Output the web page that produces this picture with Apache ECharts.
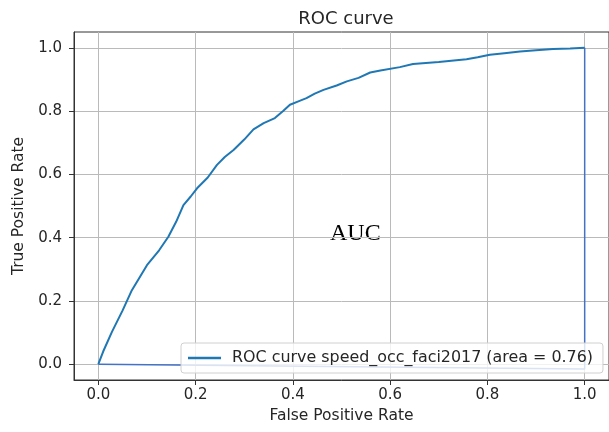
<!DOCTYPE html>
<html>
<head>
<meta charset="utf-8">
<script src="https://cdn.jsdelivr.net/npm/echarts@6/dist/echarts.min.js"></script>
<style>html,body{margin:0;padding:0;background:#fff}#c{width:609px;height:432px}</style>
</head>
<body>
<div id="c"></div>
<script>
const fpr = [0, 0.01, 0.028, 0.05, 0.069, 0.1, 0.125, 0.144, 0.16, 0.175, 0.19, 0.203, 0.225, 0.244, 0.26, 0.278, 0.3, 0.319, 0.34, 0.363, 0.38, 0.394, 0.41, 0.428, 0.445, 0.463, 0.49, 0.511, 0.535, 0.559, 0.58, 0.62, 0.647, 0.7, 0.757, 0.78, 0.805, 0.835, 0.867, 0.9, 0.935, 0.97, 1.0];
const tpr = [0, 0.04, 0.102, 0.17, 0.234, 0.313, 0.36, 0.403, 0.45, 0.503, 0.53, 0.556, 0.59, 0.63, 0.655, 0.677, 0.71, 0.742, 0.762, 0.778, 0.8, 0.82, 0.83, 0.841, 0.855, 0.867, 0.881, 0.894, 0.905, 0.922, 0.928, 0.939, 0.949, 0.955, 0.964, 0.97, 0.978, 0.983, 0.988, 0.992, 0.996, 0.998, 1.0];
const annoX = [0, 1, 1];
const annoY = [0, -0.015, 1.0];
const xTicks = [0, 0.2, 0.4, 0.6, 0.8, 1.0];
const yTicks = [0, 0.2, 0.4, 0.6, 0.8, 1.0];
const seriesName = 'ROC curve speed_occ_faci2017 (area = 0.76)';
const titleText = 'ROC curve';
const xLabel = 'False Positive Rate';
const yLabel = 'True Positive Rate';
const noteText = 'AUC';

const font = 'DejaVu Sans';
const chart = echarts.init(document.getElementById('c'), null, {renderer: 'canvas'});
const axisCommon = (ticks, name) => ({
  type: 'value', min: -0.05, max: 1.05,
  name: name, nameLocation: 'middle',
  nameTextStyle: {fontFamily: font, fontSize: 15.5, color: '#262626'},
  axisLine: {show: true, onZero: false, lineStyle: {color: '#333', width: 1}},
  axisTick: {show: true, inside: false, length: 5, customValues: ticks, lineStyle: {color: '#333', width: 1}},
  axisLabel: {customValues: ticks, fontFamily: font, fontSize: 15, color: '#262626', formatter: v => v.toFixed(1)},
  splitLine: {show: true, lineStyle: {color: '#bababa', width: 1}}
});
const xa = axisCommon(xTicks, xLabel);
xa.nameGap = 22; xa.axisLabel.margin = 8;
const ya = axisCommon(yTicks, yLabel);
ya.nameGap = 44; ya.axisLabel.margin = 12;

chart.setOption({
  animation: false,
  backgroundColor: '#fff',
  title: {text: titleText, left: 341, top: 5, textAlign: 'center',
    textStyle: {fontFamily: font, fontSize: 18, fontWeight: 'normal', color: '#262626'}},
  grid: {left: 74, top: 32, right: 0, bottom: 52, show: true, borderColor: '#333', borderWidth: 1, backgroundColor: 'transparent'},
  xAxis: xa,
  yAxis: ya,
  legend: {
    data: [{name: seriesName, icon: 'rect'}],
    left: 181, top: 343,
    itemWidth: 33, itemHeight: 2.5, itemGap: 0,
    padding: [7, 10, 7, 7],
    backgroundColor: 'rgba(255,255,255,0.8)', borderColor: '#d0d0d0', borderWidth: 1, borderRadius: 3,
    textStyle: {fontFamily: font, fontSize: 15.9, color: '#262626', padding: [0, 0, 0, 6]}
  },
  graphic: [{type: 'text', left: 330, top: 222,
    style: {text: noteText, fontFamily: 'Liberation Serif', fontSize: 24, fill: '#000'}}],
  series: [
    {name: seriesName, type: 'line', showSymbol: false, symbol: 'none',
     data: fpr.map((x, i) => [x, tpr[i]]),
     lineStyle: {color: '#1f77b4', width: 2}, itemStyle: {color: '#1f77b4'}, z: 3},
    {name: 'anno', type: 'line', showSymbol: false, symbol: 'none',
     data: annoX.map((x, i) => [x, annoY[i]]),
     lineStyle: {color: '#4472c4', width: 1.5}, itemStyle: {color: '#4472c4'}, z: 2}
  ]
});
</script>
</body>
</html>
